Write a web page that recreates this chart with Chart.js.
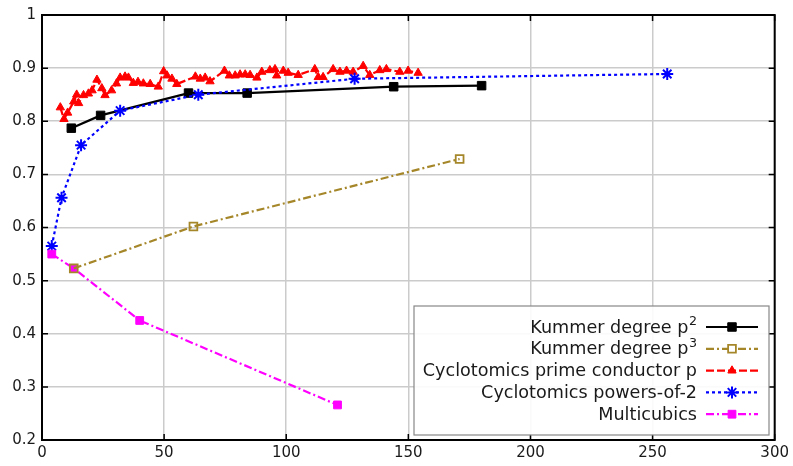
<!DOCTYPE html>
<html>
<head>
<meta charset="utf-8">
<script src="https://cdn.jsdelivr.net/npm/chart.js@4/dist/chart.umd.min.js"></script>
<style>
  html, body { margin: 0; background: #fff; }
  canvas { display: block; }
</style>
</head>
<body>
<canvas id="chart" width="793" height="466"></canvas>
<script>
// ---- data ----
const xTicks = [0, 50, 100, 150, 200, 250, 300];
const yTicks = [0.2, 0.3, 0.4, 0.5, 0.6, 0.7, 0.8, 0.9, 1.0];
const yTickLabels = ['0.2', '0.3', '0.4', '0.5', '0.6', '0.7', '0.8', '0.9', '1'];

const seriesNames = [
  'Kummer degree p²',
  'Kummer degree p³',
  'Cyclotomics prime conductor p',
  'Cyclotomics powers-of-2',
  'Multicubics',
];

const kummer2X = [12, 24, 60, 84, 144, 180];
const kummer2Y = [0.787, 0.811, 0.853, 0.853, 0.865, 0.867];

const kummer3X = [13, 62, 171];
const kummer3Y = [0.523, 0.602, 0.729];

const primeX = [7.5, 9, 10.5, 13, 14.2, 15, 17, 19, 20.5, 22.5, 24.5, 25.8, 28.5, 30.5,
  32, 34, 35.4, 37.4, 39.3, 41.5, 44.3, 47.6, 49.8, 51.2, 53.2, 55.2, 62.8, 64.8, 66.8,
  68.8, 74.7, 76.7, 79.1, 81.1, 83.2, 85.2, 88, 90, 93.3, 95.4, 96.1, 98.8, 100.8,
  104.9, 111.7, 113.1, 115.1, 119.2, 122, 124.7, 127.4, 131.5, 134.2, 138.3, 141,
  146.5, 149.9, 154];
const primeY = [0.826, 0.804, 0.816, 0.837, 0.850, 0.834, 0.849, 0.852, 0.858, 0.878,
  0.862, 0.849, 0.858, 0.871, 0.882, 0.884, 0.882, 0.872, 0.874, 0.871, 0.870, 0.865,
  0.894, 0.886, 0.880, 0.870, 0.884, 0.880, 0.882, 0.875, 0.895, 0.886, 0.886, 0.888,
  0.888, 0.887, 0.882, 0.893, 0.896, 0.898, 0.886, 0.895, 0.891, 0.887, 0.898, 0.883,
  0.883, 0.898, 0.893, 0.895, 0.893, 0.904, 0.887, 0.896, 0.898, 0.893, 0.895, 0.891];

const pow2X = [4, 8, 16, 32, 64, 128, 256];
const pow2Y = [0.565, 0.656, 0.755, 0.820, 0.850, 0.880, 0.889];

const multicubicX = [4, 13, 40, 121];
const multicubicY = [0.550, 0.523, 0.425, 0.266];

const pts = (xs, ys) => xs.map((x, i) => ({ x, y: ys[i] }));

// ---- styling ----
const GRID = '#cbcbcb';
const TEXT = '#1a1a1a';
const FONT = 'DejaVu Sans';
Chart.defaults.font.family = FONT;

const datasets = [
  {
    label: seriesNames[0], data: pts(kummer2X, kummer2Y),
    borderColor: '#000', backgroundColor: '#000', borderWidth: 2.2,
    pointStyle: 'rect', pointRadius: 6, pointBorderWidth: 1, order: 5,
  },
  {
    label: seriesNames[1], data: pts(kummer3X, kummer3Y),
    borderColor: '#a5872a', backgroundColor: 'rgba(0,0,0,0)', borderWidth: 2.2,
    borderDash: [8, 3, 2, 3], pointStyle: 'rect', pointRadius: 5.5, pointBorderWidth: 1.8,
    order: 0,
  },
  {
    label: seriesNames[2], data: pts(primeX, primeY),
    borderColor: '#ff0000', backgroundColor: '#ff0000', borderWidth: 2.2,
    borderDash: [8, 3], pointStyle: 'triangle', pointRadius: 4.8, pointBorderWidth: 1,
    order: 4,
  },
  {
    label: seriesNames[3], data: pts(pow2X, pow2Y),
    borderColor: '#0000ff', backgroundColor: '#0000ff', borderWidth: 2.2,
    borderDash: [3, 3], pointStyle: 'star', pointRadius: 6, pointBorderWidth: 2,
    order: 3,
  },
  {
    label: seriesNames[4], data: pts(multicubicX, multicubicY),
    borderColor: '#ff00ff', backgroundColor: '#ff00ff', borderWidth: 2.2,
    borderDash: [8, 3, 2, 3], pointStyle: 'rect', pointRadius: 5.5, pointBorderWidth: 1,
    order: 1,
  },
];

// frame with inward ticks on all four sides, like the matplotlib axes
const framePlugin = {
  id: 'frame',
  afterDatasetsDraw(chart) {
    const { ctx, chartArea: a, scales } = chart;
    ctx.save();
    ctx.strokeStyle = '#000';
    ctx.lineWidth = 1.5;
    const len = 6;
    ctx.beginPath();
    xTicks.forEach((v) => {
      const px = scales.x.getPixelForValue(v);
      ctx.moveTo(px, a.bottom); ctx.lineTo(px, a.bottom - len);
      ctx.moveTo(px, a.top); ctx.lineTo(px, a.top + len);
    });
    yTicks.forEach((v) => {
      const py = scales.y.getPixelForValue(v);
      ctx.moveTo(a.left, py); ctx.lineTo(a.left + len, py);
      ctx.moveTo(a.right, py); ctx.lineTo(a.right - len, py);
    });
    ctx.stroke();
    ctx.lineWidth = 2;
    ctx.strokeRect(a.left, a.top, a.right - a.left, a.bottom - a.top);
    ctx.restore();
  },
};

const SUPERS = { '²': '2', '³': '3' };

// legend box in the lower right: text on the left, line sample on the right
const legendPlugin = {
  id: 'mplLegend',
  afterDraw(chart) {
    const { ctx } = chart;
    const box = { left: 414, top: 306, right: 769, bottom: 435 };
    const rowTop = 327, rowGap = 21.8;
    const textRight = 697, lineL = 706, lineR = 758, markX = 732;
    const size = 17.6;
    ctx.save();
    ctx.fillStyle = 'rgba(255,255,255,0.9)';
    ctx.fillRect(box.left, box.top, box.right - box.left, box.bottom - box.top);
    ctx.strokeStyle = '#888';
    ctx.lineWidth = 1.2;
    ctx.strokeRect(box.left, box.top, box.right - box.left, box.bottom - box.top);
    ctx.textAlign = 'right';
    ctx.textBaseline = 'middle';
    chart.data.datasets.forEach((ds, i) => {
      const y = rowTop + i * rowGap;
      ctx.fillStyle = TEXT;
      const last = ds.label.slice(-1);
      if (SUPERS[last]) {
        // mathtext-style superscript: smaller, raised digit
        ctx.font = `${size * 0.72}px "${FONT}"`;
        const sup = SUPERS[last];
        const w = ctx.measureText(sup).width;
        ctx.fillText(sup, textRight, y - 5);
        ctx.font = `${size}px "${FONT}"`;
        ctx.fillText(ds.label.slice(0, -1), textRight - w - 0.5, y + 1);
      } else {
        ctx.font = `${size}px "${FONT}"`;
        ctx.fillText(ds.label, textRight, y + 1);
      }
      ctx.strokeStyle = ds.borderColor;
      ctx.lineWidth = ds.borderWidth;
      ctx.setLineDash(ds.borderDash || []);
      ctx.beginPath();
      ctx.moveTo(lineL, y); ctx.lineTo(lineR, y);
      ctx.stroke();
      ctx.setLineDash([]);
      ctx.fillStyle = ds.backgroundColor === 'rgba(0,0,0,0)' ? '#fff' : ds.backgroundColor;
      ctx.lineWidth = ds.pointBorderWidth;
      Chart.helpers.drawPoint(ctx, {
        pointStyle: ds.pointStyle, radius: ds.pointRadius, rotation: 0,
        borderWidth: ds.pointBorderWidth,
      }, markX, y);
    });
    ctx.restore();
  },
};

new Chart(document.getElementById('chart'), {
  type: 'scatter',
  data: { datasets: datasets.map((d) => ({ ...d, showLine: true, pointHoverRadius: d.pointRadius })) },
  options: {
    responsive: false,
    animation: false,
    devicePixelRatio: 1,
    layout: { padding: { top: 13, right: 17, left: 0, bottom: 0 } },
    plugins: { legend: { display: false }, tooltip: { enabled: false } },
    scales: {
      x: {
        type: 'linear', min: 0, max: 300,
        afterBuildTicks: (s) => { s.ticks = xTicks.map((v) => ({ value: v })); },
        afterFit: (s) => { s.height = 26; },
        ticks: { color: TEXT, font: { size: 15 }, padding: 4, maxRotation: 0, autoSkip: false,
          callback: (v) => String(v) },
        grid: { color: GRID, lineWidth: 1.5, drawTicks: false },
        border: { display: false },
      },
      y: {
        type: 'linear', min: 0.2, max: 1,
        afterBuildTicks: (s) => { s.ticks = yTicks.map((v) => ({ value: v })); },
        afterFit: (s) => { s.width = 42; },
        ticks: { color: TEXT, font: { size: 15 }, padding: 6, autoSkip: false,
          callback: (v, i) => yTickLabels[i] },
        grid: { color: GRID, lineWidth: 1.5, drawTicks: false },
        border: { display: false },
      },
    },
  },
  plugins: [framePlugin, legendPlugin],
});
</script>
</body>
</html>
